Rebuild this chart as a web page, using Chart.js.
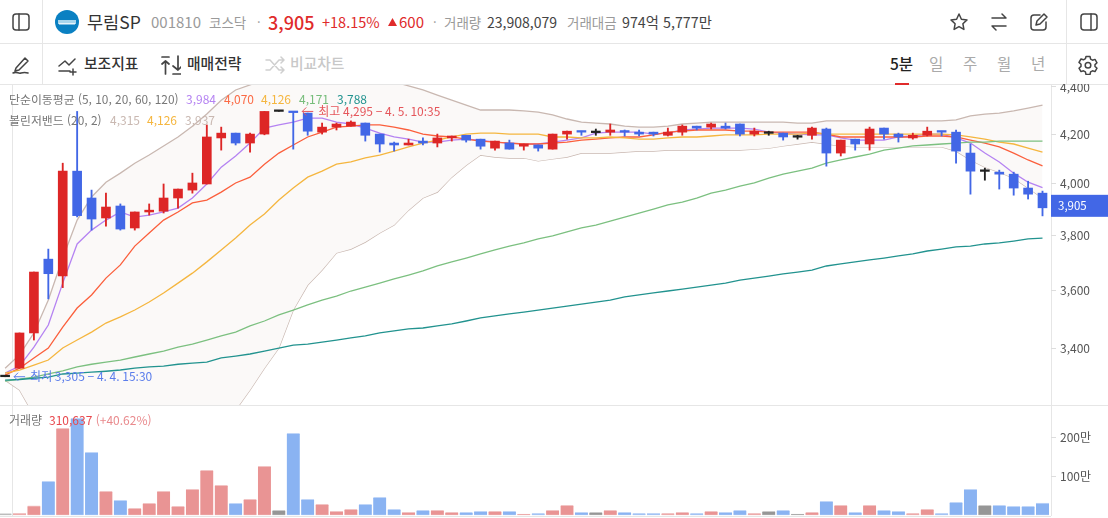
<!DOCTYPE html>
<html lang="ko">
<head>
<meta charset="utf-8">
<title>무림SP</title>
<script src="https://cdn.jsdelivr.net/npm/chart.js@4"></script>
<style>
  html, body { margin: 0; padding: 0; background: #fff; }
  body { width: 1108px; height: 518px; overflow: hidden; position: relative; font-family: "Noto Sans CJK KR", "Noto Sans", sans-serif; }
  .t { position: absolute; white-space: nowrap; line-height: 20px; height: 20px; }
  .line { position: absolute; background: #e6e6e6; }
  .ic { position: absolute; fill: none; stroke: #444; stroke-width: 1.5; stroke-linecap: round; stroke-linejoin: round; }
  canvas { position: absolute; left: 0; display: block; }
  .g { color: #9a9a9a; }
  .d { color: #444; }
  .r { color: #e02b2b; }
</style>
</head>
<body>
<!-- toolbar rows -->
<div class="line" style="left:0;top:43px;width:1108px;height:1px"></div>
<div class="line" style="left:0;top:84px;width:1108px;height:1px"></div>
<div class="line" style="left:42px;top:0;width:1px;height:84px"></div>
<div class="line" style="left:1066px;top:0;width:1px;height:84px"></div>

<svg class="ic" style="left:11px;top:12px" width="20" height="20" viewBox="0 0 20 20"><rect x="2" y="2" width="16" height="16" rx="3"/><path d="M8 2v16"/></svg>
<svg style="position:absolute;left:55px;top:10px" width="24" height="24" viewBox="0 0 24 24"><circle cx="12" cy="12" r="12" fill="#0a80c2"/><rect x="3" y="10" width="18" height="4" fill="#a9d5ec"/><rect x="4" y="13" width="16" height="1.5" fill="#e8f4fb"/></svg>
<span class="t" style="left:87px;top:12px;font-size:17.5px;color:#333">무림SP</span>
<span class="t g" style="left:151px;top:12px;font-size:15px">001810</span>
<span class="t g" style="left:209px;top:12px;font-size:13.5px">코스닥</span>
<span class="t g" style="left:257px;top:12px;font-size:13px">·</span>
<span class="t r" style="left:268px;top:12px;font-size:18px;font-weight:500">3,905</span>
<span class="t r" style="left:322px;top:12px;font-size:14.5px">+18.15%</span>
<svg style="position:absolute;left:388px;top:18px" width="9" height="8" viewBox="0 0 9 8"><path d="M4.5 0L9 8H0z" fill="#e02b2b"/></svg>
<span class="t r" style="left:399px;top:12px;font-size:15px">600</span>
<span class="t g" style="left:433px;top:12px;font-size:13px">·</span>
<span class="t g" style="left:444px;top:12px;font-size:13.500px">거래량</span>
<span class="t d" style="left:487px;top:12px;font-size:14px">23,908,079</span>
<span class="t g" style="left:567px;top:12px;font-size:13.500px">거래대금</span>
<span class="t d" style="left:622px;top:12px;font-size:14.300px">974억 5,777만</span>

<svg class="ic" style="left:949px;top:12px" width="20" height="20" viewBox="0 0 20 20"><path d="M10 2l2.4 5.2 5.6.7-4.1 3.9 1 5.6-4.9-2.8-4.9 2.8 1-5.6L2 7.9l5.6-.7z"/></svg>
<svg class="ic" style="left:989px;top:12px" width="20" height="20" viewBox="0 0 20 20"><path d="M3 6h14M13 2l4 4M17 14H3M7 18l-4-4"/></svg>
<svg class="ic" style="left:1029px;top:12px" width="20" height="20" viewBox="0 0 20 20"><path d="M17 10v5a3 3 0 0 1-3 3H5a3 3 0 0 1-3-3V6a3 3 0 0 1 3-3h6M7 13l1-4 7-7 3 3-7 7z"/></svg>
<svg class="ic" style="left:1079px;top:12px" width="20" height="20" viewBox="0 0 20 20"><rect x="2" y="2" width="16" height="16" rx="3"/><path d="M12 2v16"/></svg>

<svg class="ic" style="left:11px;top:55px" width="20" height="20" viewBox="0 0 20 20"><path d="M5 13L14 3l3 3-9 9-4 1zM2 18c4-2 5 1 8 0s4-1 7 0"/></svg>
<svg class="ic" style="left:58px;top:56px" width="20" height="20" viewBox="0 0 20 20"><path d="M1 10l6-5 4 4 6-6M1 15h11M15 13v6M12 16h6"/></svg>
<span class="t" style="left:84px;top:53px;font-size:14.800px;font-weight:500;color:#333">보조지표</span>
<svg class="ic" style="left:161px;top:55px" width="20" height="20" viewBox="0 0 20 20"><path d="M1 2h7M4.500 19V6M1 9l3.500-3L8 9M17 1v13M12 11l5 4 3-3M12 19h8" stroke-width="1.7"/></svg>
<span class="t" style="left:187px;top:53px;font-size:14.800px;font-weight:500;color:#333">매매전략</span>
<svg class="ic" style="left:265px;top:55px;stroke:#cfcfcf" width="20" height="20" viewBox="0 0 20 20"><path d="M1 5h4l9 10h4M1 15h4l9-10h4M16 2l3 3-3 3M16 12l3 3-3 3"/></svg>
<span class="t" style="left:290px;top:53px;font-size:14.800px;font-weight:500;color:#c8c8c8">비교차트</span>

<span class="t" style="left:890px;top:53px;font-size:15.500px;font-weight:500;color:#222">5분</span>
<div style="position:absolute;left:895px;top:83px;width:14px;height:2px;background:#e02b2b"></div>
<span class="t" style="left:929px;top:53px;font-size:15.500px;color:#aaa">일</span>
<span class="t" style="left:963px;top:53px;font-size:15.500px;color:#aaa">주</span>
<span class="t" style="left:997px;top:53px;font-size:15.500px;color:#aaa">월</span>
<span class="t" style="left:1031px;top:53px;font-size:15.500px;color:#aaa">년</span>
<svg class="ic" style="left:1078px;top:55px" width="20" height="20" viewBox="0 0 20 20"><path d="M8 1.500h4l.6 2.600 1.900 1.100 2.500-.8 2 3.400-2 1.800v1.800l2 1.800-2 3.400-2.500-.8-1.900 1.100-.6 2.600H8l-.6-2.600-1.900-1.100-2.500.8-2-3.400 2-1.800V9.200l-2-1.800 2-3.400 2.500.8 1.900-1.100z"/><circle cx="10" cy="10.300" r="2.800"/></svg>

<!-- grid lines that sit behind the transparent canvases -->
<div class="line" style="left:12px;top:85px;width:1px;height:431px"></div>
<div class="line" style="left:1051px;top:85px;width:1px;height:431px"></div>
<div class="line" style="left:0;top:405px;width:1108px;height:1px"></div>
<div class="line" style="left:0;top:516px;width:1051px;height:1px"></div>

<canvas id="priceChart" style="top:84px" width="1108" height="322"></canvas>
<canvas id="volumeChart" style="top:406px" width="1108" height="112"></canvas>

<!-- indicator legends -->
<div class="t" style="left:9px;top:89px;font-size:11.900px;color:#777">단순이동평균 (5, 10, 20, 60, 120)</div>
<div class="t" style="left:186px;top:89px;font-size:12px;color:#b583f2">3,984</div>
<div class="t" style="left:224px;top:89px;font-size:12px;color:#fb6a45">4,070</div>
<div class="t" style="left:261px;top:89px;font-size:12px;color:#f5b63f">4,126</div>
<div class="t" style="left:299px;top:89px;font-size:12px;color:#76bd7a">4,171</div>
<div class="t" style="left:337px;top:89px;font-size:12px;color:#22938f">3,788</div>
<div class="t" style="left:9px;top:110px;font-size:11.900px;color:#777">볼린저밴드 (20, 2)</div>
<div class="t" style="left:110px;top:110px;font-size:12px;color:#c9b8b1">4,315</div>
<div class="t" style="left:147px;top:110px;font-size:12px;color:#f5b63f">4,126</div>
<div class="t" style="left:185px;top:110px;font-size:12px;color:#c9b8b1">3,937</div>
<div class="t" style="left:9px;top:410px;font-size:12px;color:#777">거래량</div>
<div class="t" style="left:49px;top:410px;font-size:12px;color:#e8484d">310,637 <span style="color:#e98a8d">(+40.62%)</span></div>

<script>
// 5 minute candles, oldest first
const open = [3305,3333,3451,3712,3651,4049,3943,3866,3912,3828,3889,3892,3943,3974,3998,4184,4204,4163,4200,4295,4295,4288,4208,4229,4233,4246,4200,4163,4155,4171,4163,4184,4195,4179,4142,4163,4150,4155,4138,4200,4212,4206,4208,4212,4208,4208,4195,4208,4233,4229,4233,4242,4200,4203,4204,4187,4195,4221,4122,4179,4159,4225,4200,4184,4195,4212,4208,4122,4048,4045,4037,3982,3962];
const close = [3305,3451,3665,3659,4049,3875,3862,3908,3824,3889,3896,3943,3978,4002,4188,4204,4163,4200,4295,4295,4290,4212,4229,4242,4250,4195,4159,4155,4163,4163,4184,4192,4175,4150,4171,4138,4159,4142,4200,4212,4208,4206,4217,4208,4200,4200,4208,4233,4225,4242,4225,4200,4212,4203,4188,4187,4225,4122,4175,4159,4221,4200,4188,4195,4212,4208,4130,4049,4048,4037,3982,3958,3905];
const high = [3305,3451,3665,3749,4081,4295,3974,3962,3920,3889,3920,3998,3978,4041,4238,4229,4204,4204,4295,4295,4295,4288,4246,4246,4255,4246,4200,4167,4179,4184,4200,4192,4195,4179,4171,4175,4159,4155,4200,4212,4212,4221,4242,4217,4217,4208,4225,4238,4233,4246,4246,4242,4225,4212,4204,4195,4229,4225,4175,4179,4229,4225,4204,4204,4229,4212,4217,4159,4061,4053,4045,4009,3970];
const low = [3305,3333,3427,3569,3609,3870,3820,3835,3820,3820,3877,3885,3904,3962,3998,4134,4155,4126,4197,4295,4138,4195,4200,4217,4233,4171,4126,4130,4155,4155,4147,4171,4167,4138,4134,4138,4134,4130,4138,4179,4195,4195,4195,4192,4192,4192,4192,4195,4217,4221,4221,4192,4192,4195,4175,4179,4179,4069,4110,4134,4134,4179,4167,4179,4192,4192,4081,3958,4013,3978,3954,3939,3874];

// moving averages
const ma5 = [3317,3340,3403,3478,3625,3768,3820,3858,3889,3869,3877,3889,3904,3943,3998,4065,4110,4163,4225,4238,4250,4267,4267,4250,4242,4225,4204,4188,4179,4167,4167,4175,4179,4175,4167,4163,4159,4159,4167,4175,4184,4204,4208,4208,4208,4200,4204,4217,4221,4225,4225,4225,4221,4208,4204,4200,4197,4197,4184,4175,4175,4175,4188,4192,4200,4200,4184,4163,4122,4086,4041,4005,3984];
const ma10 = [3310,3333,3367,3400,3471,3537,3583,3643,3691,3760,3809,3858,3889,3924,3935,3966,4002,4025,4077,4122,4155,4188,4208,4229,4233,4238,4238,4229,4217,4200,4192,4188,4179,4171,4167,4163,4159,4159,4163,4167,4175,4179,4184,4188,4188,4197,4208,4212,4217,4217,4217,4212,4212,4208,4208,4208,4208,4200,4188,4188,4188,4188,4188,4188,4192,4192,4188,4175,4163,4147,4122,4094,4070];
const ma20 = [3317,3327,3343,3360,3400,3427,3454,3485,3506,3530,3558,3590,3625,3661,3702,3746,3790,3839,3881,3935,3982,4025,4049,4077,4086,4102,4114,4130,4147,4163,4175,4188,4200,4204,4204,4200,4200,4200,4188,4188,4184,4184,4188,4184,4179,4179,4184,4188,4188,4192,4197,4197,4197,4200,4200,4200,4204,4200,4200,4200,4200,4200,4200,4200,4200,4200,4197,4188,4179,4167,4159,4142,4126];
const ma60 = [3291,3297,3304,3314,3324,3337,3346,3353,3360,3370,3380,3390,3403,3413,3427,3441,3454,3475,3492,3513,3530,3548,3565,3579,3597,3611,3625,3640,3654,3669,3687,3702,3716,3731,3746,3760,3772,3787,3798,3813,3828,3839,3854,3869,3885,3900,3916,3927,3943,3962,3974,3990,4002,4021,4037,4049,4061,4081,4094,4106,4118,4134,4142,4151,4155,4159,4163,4167,4167,4171,4171,4171,4171];
const ma120 = [3294,3296,3300,3304,3314,3317,3320,3323,3327,3333,3337,3340,3346,3350,3353,3367,3373,3380,3390,3400,3410,3413,3420,3427,3434,3441,3451,3458,3465,3468,3475,3482,3492,3503,3510,3517,3523,3530,3537,3544,3551,3558,3565,3576,3583,3590,3597,3604,3611,3618,3625,3636,3643,3650,3658,3665,3672,3687,3695,3702,3709,3716,3724,3731,3742,3749,3757,3760,3768,3772,3779,3787,3790];

// bollinger band (20, 2)
const bbUpper = [3333,3377,3451,3565,3716,3858,3947,4005,4041,4081,4114,4151,4188,4233,4284,4343,4387,4409,4431,4449,4462,4475,4480,4480,4467,4453,4440,4422,4405,4387,4365,4343,4322,4301,4301,4301,4297,4292,4280,4263,4250,4246,4242,4233,4229,4229,4233,4242,4246,4250,4250,4250,4250,4250,4250,4246,4246,4255,4255,4255,4255,4255,4255,4255,4255,4255,4259,4276,4284,4288,4297,4309,4322];
const bbLower = [3294,3262,3182,3105,3014,2956,2912,2897,2897,2897,2912,2926,2956,3000,3044,3120,3198,3262,3333,3400,3530,3618,3672,3735,3749,3775,3809,3839,3896,3943,3966,4025,4073,4114,4106,4102,4102,4090,4098,4106,4122,4122,4122,4126,4130,4130,4134,4134,4134,4134,4134,4134,4138,4142,4151,4159,4167,4159,4151,4147,4147,4147,4147,4147,4147,4147,4130,4094,4065,4045,4021,3982,3943];

// volume per candle
const volume = [43000,51000,239000,870000,2225000,2481000,1611000,614000,384000,179000,307000,614000,230000,665000,1151000,767000,307000,409000,1253000,128000,2097000,409000,281000,102000,153000,281000,460000,153000,77000,128000,128000,77000,77000,102000,102000,102000,34000,51000,128000,256000,77000,77000,128000,77000,51000,51000,51000,77000,51000,102000,77000,128000,51000,102000,128000,34000,77000,358000,256000,77000,256000,128000,102000,51000,153000,51000,332000,665000,256000,256000,230000,230000,311000];

// axis ticks and labels
const priceTicks = [3400, 3600, 3800, 4000, 4200, 4400];
const volumeTicks = [1000000, 2000000];
const lastPrice = 3905;
const highMark = { index: 20, price: 4295, text: '최고 4,295 − 4. 5. 10:35' };
const lowMark = { index: 0, price: 3305, text: '최저 3,305 − 4. 4. 15:30' };

const UP = '#dd2626', DOWN = '#4267e6', FLAT = '#222222';
const candleColor = open.map((o, i) => close[i] > o ? UP : close[i] < o ? DOWN : FLAT);
const volumeFill = candleColor.map(c => c === UP ? '#e99494' : c === DOWN ? '#8ab3f2' : '#969696');
const volumeEdge = candleColor.map(c => c === UP ? '#f2c4c4' : c === DOWN ? '#c0d6f8' : '#cacaca');
const pts = arr => arr.map((y, x) => ({ x, y }));

// same horizontal mapping for both panels, candle 0 at x=5 and candle 72 at x=1042
const xAxis = { type: 'linear', display: false, offset: false, min: -0.354, max: 72.59 };
const YAXIS_WIDTH = 57;

// keep the plot area from being pushed in by half a tick label
const fitAxis = s => {
    s.width = YAXIS_WIDTH;
    s.paddingTop = 0;
    s.paddingBottom = 0;
};

Chart.defaults.font.family = '"Noto Sans CJK KR", "Noto Sans", sans-serif';
Chart.defaults.font.size = 12;
Chart.defaults.animation = false;

const maLine = (data, color, order) => ({
    type: 'line', data: pts(data), borderColor: color, borderWidth: 1.3,
    pointRadius: 0, tension: 0, fill: false, order
});

// arrow + caption for the day's high and low, price tag on the axis
const markersPlugin = {
    id: 'markers',
    afterDatasetsDraw(chart) {
        const { ctx, scales: { x, y } } = chart;
        const drawMark = (mark, color) => {
            const px = x.getPixelForValue(mark.index) + 9;
            const py = y.getPixelForValue(mark.price);
            ctx.save();
            ctx.strokeStyle = color;
            ctx.fillStyle = color;
            ctx.lineWidth = 1;
            ctx.beginPath();
            ctx.moveTo(px + 11, py);
            ctx.lineTo(px, py);
            ctx.moveTo(px + 4, py - 4);
            ctx.lineTo(px, py);
            ctx.lineTo(px + 4, py + 4);
            ctx.stroke();
            ctx.font = '12px "Noto Sans CJK KR"';
            ctx.textBaseline = 'middle';
            ctx.fillText(mark.text, px + 16, py);
            ctx.restore();
        };
        drawMark(highMark, '#e5565b');
        drawMark(lowMark, '#5b7deb');

        const tagY = y.getPixelForValue(lastPrice);
        const right = chart.width;
        ctx.save();
        ctx.fillStyle = '#4267e6';
        ctx.fillRect(x.right, tagY - 13, right - x.right, 22);
        ctx.fillStyle = '#ffffff';
        ctx.font = '11.5px "Noto Sans CJK KR"';
        ctx.textBaseline = 'middle';
        ctx.fillText(lastPrice.toLocaleString('en-US'), x.right + 7, tagY - 2);
        ctx.restore();
    }
};

new Chart(document.getElementById('priceChart').getContext('2d'), {
    data: {
        datasets: [
            // bodies above wicks above lines above the band
            {
                type: 'bar', data: open.map((o, i) => ({ x: i, y: [o, close[i]] })),
                backgroundColor: candleColor, barThickness: 9, minBarLength: 1.6, grouped: false, order: 1
            },
            {
                type: 'bar', data: open.map((o, i) => ({ x: i, y: [low[i], high[i]] })),
                backgroundColor: candleColor, barThickness: 1.2, grouped: false, order: 2
            },
            maLine(ma120, '#22938f', 3),
            maLine(ma60, '#7cc080', 4),
            maLine(ma20, '#f5b63f', 5),
            maLine(ma10, '#fb5f3c', 6),
            maLine(ma5, '#b583f2', 7),
            {
                type: 'line', data: pts(bbUpper), borderColor: '#c9b8b1', borderWidth: 1.3,
                pointRadius: 0, tension: 0, fill: '+1', backgroundColor: '#fbf9f8', order: 8
            },
            {
                type: 'line', data: pts(bbLower), borderColor: '#c9b8b1', borderWidth: 1.3,
                pointRadius: 0, tension: 0, fill: false, order: 8
            }
        ]
    },
    options: {
        responsive: false,
        layout: { padding: { top: 1, bottom: 1 } },
        plugins: { legend: { display: false }, tooltip: { enabled: false } },
        scales: {
            x: xAxis,
            y: {
                type: 'logarithmic', position: 'right', min: 3214, max: 4408.6,
                afterFit: fitAxis,
                afterBuildTicks: s => { s.ticks = priceTicks.map(value => ({ value })); },
                border: { display: false },
                grid: { drawOnChartArea: false, tickLength: 5, tickColor: '#dddddd' },
                ticks: { autoSkip: false, maxRotation: 0, padding: 4, color: '#555', callback: v => v.toLocaleString('en-US') }
            }
        }
    },
    plugins: [markersPlugin]
});

new Chart(document.getElementById('volumeChart').getContext('2d'), {
    data: {
        datasets: [{
            type: 'bar', data: pts(volume), backgroundColor: volumeFill, borderColor: volumeEdge,
            borderWidth: { top: 1, bottom: 1 }, borderSkipped: false, barThickness: 13, order: 1
        }]
    },
    options: {
        responsive: false,
        layout: { padding: { top: 0, bottom: 2.7 } },
        plugins: { legend: { display: false }, tooltip: { enabled: false } },
        scales: {
            x: xAxis,
            y: {
                type: 'linear', position: 'right', min: 0, max: 2795000,
                afterFit: fitAxis,
                afterBuildTicks: s => { s.ticks = volumeTicks.map(value => ({ value })); },
                border: { display: false },
                grid: { drawOnChartArea: false, tickLength: 5, tickColor: '#dddddd' },
                ticks: { autoSkip: false, maxRotation: 0, padding: 4, color: '#555', callback: v => (v / 10000) + '만' }
            }
        }
    }
});
</script>
</body>
</html>
